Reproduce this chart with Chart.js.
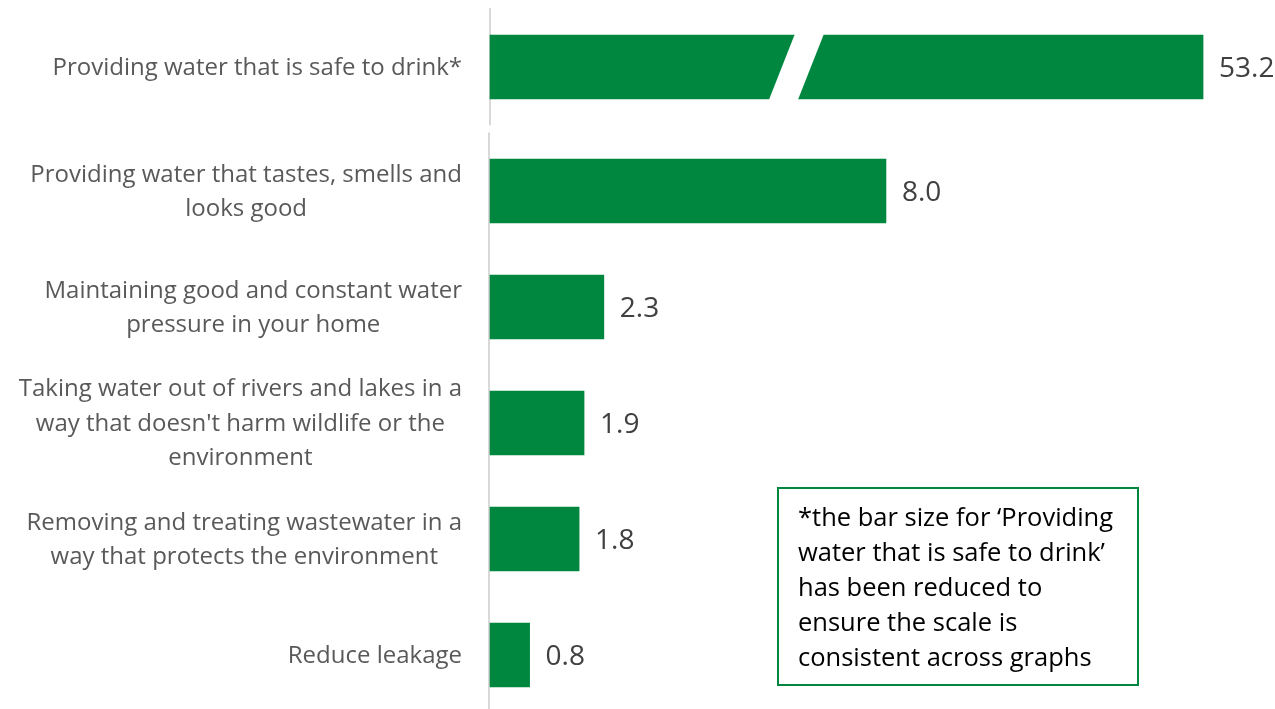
<!DOCTYPE html>
<html>
<head>
<meta charset="utf-8">
<script src="https://cdn.jsdelivr.net/npm/chart.js@4.4.0/dist/chart.umd.min.js"></script>
<style>
  html, body { margin: 0; padding: 0; background: #fff; }
  #wrap { position: relative; width: 1275px; height: 709px; }
  #note {
    position: absolute; left: 777px; top: 487px;
    width: 362px; height: 199px; box-sizing: border-box;
    border: 2px solid #00873f;
    padding: 10px 0 0 19px;
    font: 25.5px "Open Sans", sans-serif; line-height: 35px; color: #000;
  }
</style>
</head>
<body>
<div id="wrap">
  <canvas id="priorityChart" width="1275" height="709"></canvas>
  <div id="note">*the bar size for ‘Providing<br>water that is safe to drink’<br>has been reduced to<br>ensure the scale is<br>consistent across graphs</div>
</div>
<script>
const categories = [
  ['Providing water that is safe to drink*'],
  ['Providing water that tastes, smells and', 'looks good'],
  ['Maintaining good and constant water', 'pressure in your home'],
  ["Taking water out of rivers and lakes in a", "way that doesn't harm wildlife or the", 'environment'],
  ['Removing and treating wastewater in a', 'way that protects the environment'],
  ['Reduce leakage']
];
const values = [53.2, 8.0, 2.3, 1.9, 1.8, 0.8];

const GREEN = '#00873f';
const FONT = '"Open Sans"';

// linear axis that squeezes everything past `squeeze.from` (the broken bar)
class BrokenLinearScale extends Chart.LinearScale {
  static id = 'brokenLinear';
  static defaults = Chart.LinearScale.defaults;
  getPixelForValue(value) {
    if (value === null || value === undefined) return NaN;
    const sq = this.options.squeeze;
    const v = value > sq.from ? sq.from + (value - sq.from) * sq.rate : value;
    return this.getPixelForDecimal((v - this._startValue) / this._valueRange);
  }
}

// category axis where the first row sits a bit higher, past the axis break
class LiftedCategoryScale extends Chart.CategoryScale {
  static id = 'liftedCategory';
  static defaults = Chart.CategoryScale.defaults;
  getPixelForValue(value) {
    if (typeof value !== 'number') value = this.parse(value);
    const px = super.getPixelForValue(value);
    return value === 0 ? px - this.options.firstRowLift : px;
  }
}
Chart.register(BrokenLinearScale, LiftedCategoryScale);

const decorations = {
  id: 'decorations',
  beforeDatasetsDraw(chart) {
    const {ctx, chartArea, scales: {y}} = chart;
    const x0 = chartArea.left;
    const r0 = y.getPixelForValue(0), r1 = y.getPixelForValue(1);
    const gapMid = (r0 + r1) / 2;
    ctx.save();
    ctx.strokeStyle = '#d9d9d9';
    ctx.lineWidth = 2;
    ctx.beginPath();
    ctx.moveTo(x0, r0 - 59);
    ctx.lineTo(x0, gapMid - 3.5);
    ctx.moveTo(x0 - 1, gapMid + 3.5);
    ctx.lineTo(x0 - 1, chart.height);
    ctx.stroke();
    ctx.restore();
  },
  afterDatasetsDraw(chart) {
    const {ctx, scales: {x, y}} = chart;
    const bars = chart.getDatasetMeta(0).data;

    // white slash through the shortened bar
    const b = bars[0];
    const top = b.y - b.height / 2 - 1, bot = b.y + b.height / 2 + 1;
    const cx = x.getPixelForValue(6.2);
    ctx.save();
    ctx.fillStyle = '#fff';
    ctx.beginPath();
    ctx.moveTo(cx - 2, top);
    ctx.lineTo(cx + 27, top);
    ctx.lineTo(cx + 1, bot);
    ctx.lineTo(cx - 28, bot);
    ctx.closePath();
    ctx.fill();

    // category labels: lines centred, block right-aligned to the axis
    ctx.font = '24px ' + FONT;
    ctx.fillStyle = '#595959';
    ctx.textAlign = 'center';
    ctx.textBaseline = 'middle';
    const right = 462;
    categories.forEach((lines, i) => {
      const cy = y.getPixelForValue(i);
      const w = Math.max(...lines.map(l => ctx.measureText(l).width));
      lines.forEach((l, k) => {
        ctx.fillText(l, right - w / 2, cy + 1 + (k - (lines.length - 1) / 2) * 34.5);
      });
    });

    // value labels at bar ends
    ctx.font = '28px ' + FONT;
    ctx.fillStyle = '#404040';
    ctx.textAlign = 'left';
    bars.forEach((bar, i) => {
      ctx.fillText(values[i].toFixed(1), bar.x + 16, bar.y + 2);
    });
    ctx.restore();
  }
};

document.fonts.load('24px "Open Sans"').then(() => {
  new Chart(document.getElementById('priorityChart'), {
    type: 'bar',
    data: {
      labels: categories,
      datasets: [{
        data: values,
        backgroundColor: GREEN,
        borderWidth: 0,
        barThickness: 64,
        clip: false
      }]
    },
    options: {
      indexAxis: 'y',
      responsive: false,
      animation: false,
      layout: { padding: { left: 490, right: 0, top: 75, bottom: 54 } },
      scales: {
        x: {
          type: 'brokenLinear',
          min: 0,
          max: 15.86,
          squeeze: { from: 10, rate: 0.102 },
          display: false
        },
        y: {
          type: 'liftedCategory',
          offset: false,
          firstRowLift: 8,
          display: false
        }
      },
      plugins: {
        legend: { display: false },
        tooltip: { enabled: false }
      }
    },
    plugins: [decorations]
  });
});
</script>
</body>
</html>
